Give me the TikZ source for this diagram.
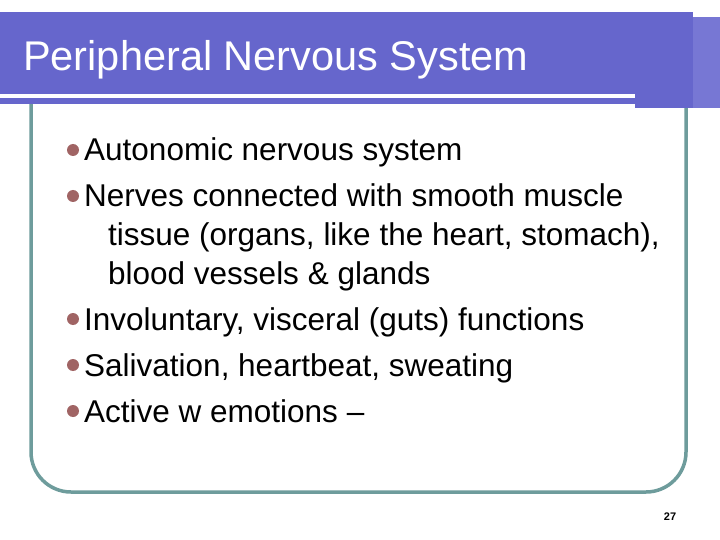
\documentclass[tikz,border=0pt]{standalone}
\usepackage{fontspec}
\setmainfont{Liberation Sans}
\definecolor{barblue}{HTML}{6666CC}
\definecolor{barlight}{HTML}{7777D4}
\definecolor{frame}{HTML}{6E9C9C}
\definecolor{dot}{HTML}{A06464}
\begin{document}
\begin{tikzpicture}[x=1pt,y=-1pt,
  item/.style={anchor=base west,inner sep=0pt,font=\fontsize{31.5}{36}\selectfont,align=left},
  bul/.style={circle,fill=dot,inner sep=0pt,minimum size=12pt}]
\useasboundingbox (0,0) rectangle (720,540);
\fill[white] (0,0) rectangle (720,540);
% content frame
\draw[frame,line width=3.5pt,rounded corners=40pt] (31,60) -- (31,492) -- (686,492) -- (686,60);
% title bar
\fill[barlight] (690,17) rectangle (720,108);
\fill[barblue] (0,12) rectangle (693,104);
\fill[barblue] (635,95) rectangle (693,108);
\fill[white] (0,94) rectangle (635,98);
\node[anchor=base west,inner sep=0pt,text=white,font=\fontsize{41.5}{44}\selectfont] (title) at (23,71) {Peripheral Nervous System};
% bullets
\foreach \n/\y/\t in {a/161/Autonomic nervous system,
  b/207/Nerves connected with smooth muscle,
  d/330/{Involuntary, visceral (guts) functions},
  e/376/{Salivation, heartbeat, sweating},
  f/422/Active w emotions –}{
  \node[bul] (d\n) at (73,\y-11) {};
  \node[item] (t\n) at (84,\y) {\t};
}
\node[item] (tb2) at (108,245) {tissue (organs, like the heart, stomach),};
\node[item] (tb3) at (108,284) {blood vessels \& glands};
\node[anchor=base,inner sep=0pt,font=\bfseries\fontsize{11}{12}\selectfont] (num) at (670,520) {27};
\end{tikzpicture}
\end{document}
